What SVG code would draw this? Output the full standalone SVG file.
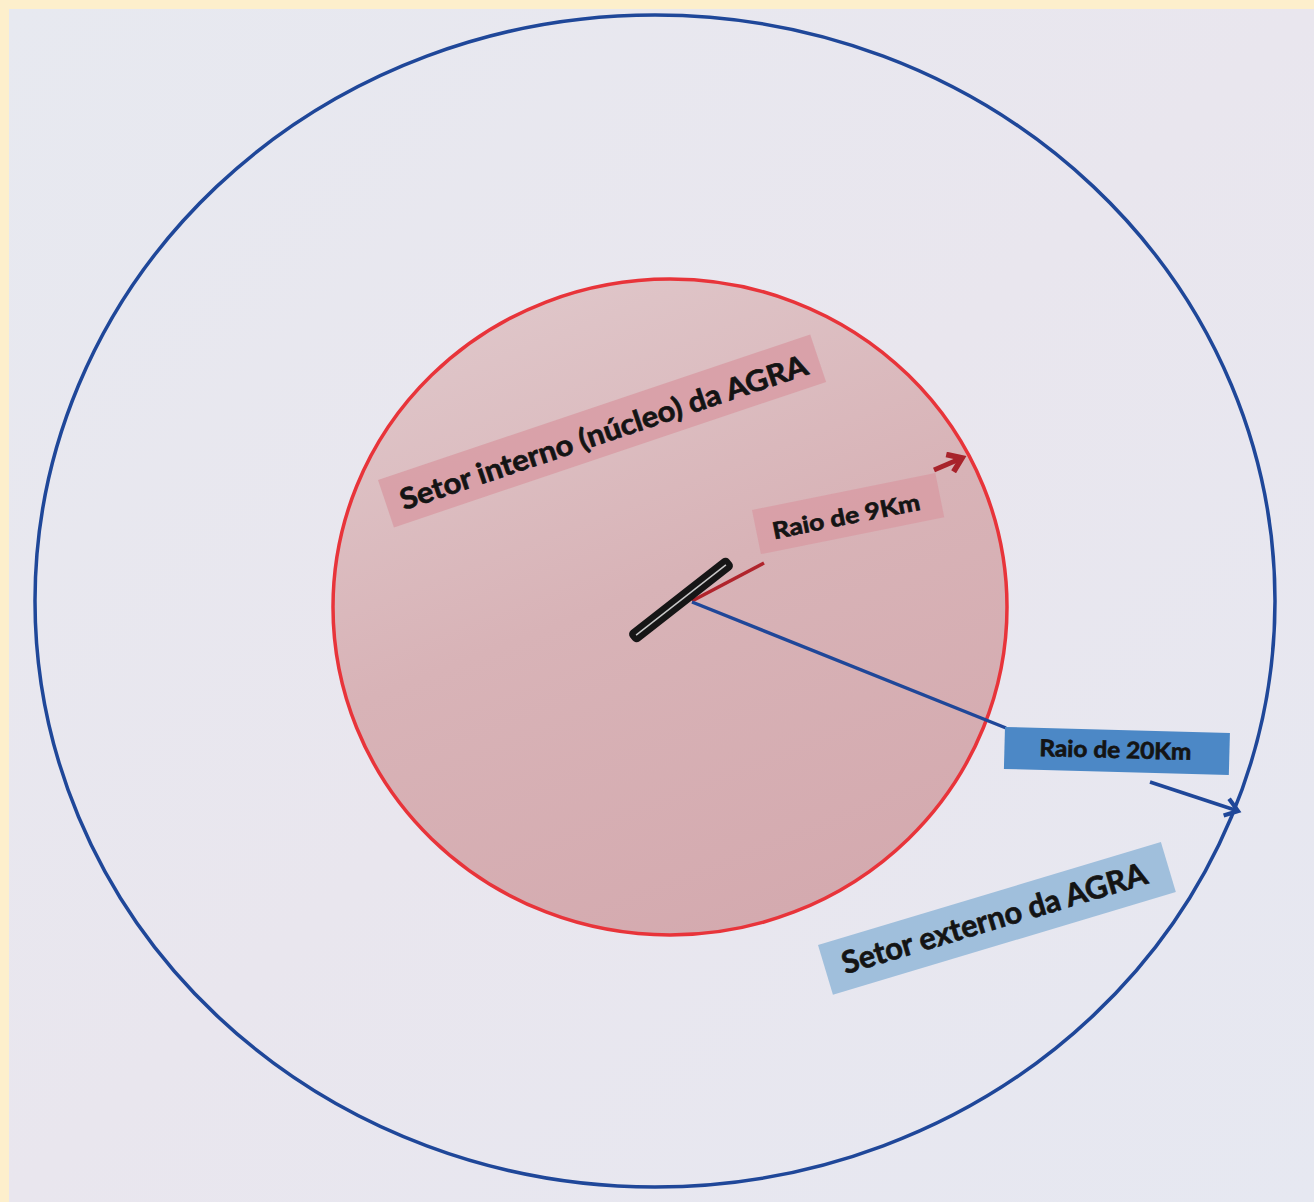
<svg xmlns="http://www.w3.org/2000/svg" width="1314" height="1202" viewBox="0 0 1314 1202">
  <style>
    .lbl { font-family: "Lato", "Open Sans", "Liberation Sans", sans-serif; font-weight: bold; fill: #141414; stroke: #141414; stroke-width: 0.7; }
    .pinkbox { fill: #d89ca5; opacity: 0.85; }
    .bluebox { fill: #4c88c6; }
    .lightbluebox { fill: #a0bfdc; }
  </style>
  <defs>
    <linearGradient id="bg" x1="0" y1="0" x2="1" y2="1">
      <stop offset="0" stop-color="#e7e9f0"/>
      <stop offset="0.5" stop-color="#e9e6ee"/>
      <stop offset="1" stop-color="#e6e8f1"/>
    </linearGradient>
    <linearGradient id="inner" x1="0.2" y1="0" x2="0.6" y2="1">
      <stop offset="0" stop-color="#e0c8cb"/>
      <stop offset="0.5" stop-color="#d8b3b7"/>
      <stop offset="1" stop-color="#d4aaaf"/>
    </linearGradient>
    <marker id="arrRed" viewBox="0 0 12 12" refX="9" refY="6" markerWidth="4.5" markerHeight="4.5" orient="auto" markerUnits="strokeWidth">
      <path d="M2,1 L9,6 L2,11" fill="none" stroke="#a8232b" stroke-width="3"/>
    </marker>
    <marker id="arrBlue" viewBox="0 0 12 12" refX="9" refY="6" markerWidth="6" markerHeight="6" orient="auto" markerUnits="strokeWidth">
      <path d="M2,1 L9,6 L2,11" fill="none" stroke="#1f4799" stroke-width="2.4"/>
    </marker>
  </defs>

  <rect x="0" y="0" width="1314" height="1202" fill="#fdefcc"/>
  <rect x="9" y="9" width="1305" height="1193" fill="url(#bg)"/>

  <g id="outer-sector">
    <ellipse cx="655" cy="601" rx="620" ry="586" fill="none" stroke="#1f4799" stroke-width="3.5"/>
  </g>

  <g id="inner-sector">
    <ellipse cx="670" cy="607" rx="337" ry="328" fill="url(#inner)" stroke="#e8343a" stroke-width="3.5"/>
  </g>

  <g id="connectors">
    <line x1="692" y1="601" x2="764" y2="563" stroke="#b0242c" stroke-width="3.5"/>
    <line x1="692" y1="602" x2="1006" y2="728" stroke="#1f4799" stroke-width="3.5"/>
    <line x1="1150" y1="782" x2="1238" y2="811" stroke="#1f4799" stroke-width="3.5" marker-end="url(#arrBlue)"/>
    <line x1="934" y1="470" x2="962" y2="458" stroke="#a8232b" stroke-width="5" marker-end="url(#arrRed)"/>
  </g>

  <g id="runway" transform="translate(681,600) rotate(-38)">
    <rect x="-63" y="-7" width="126" height="14" rx="5" fill="#161616"/>
    <line x1="-57" y1="0" x2="57" y2="0" stroke="#c8c8c8" stroke-width="1.5"/>
  </g>

  <g id="label-inner" transform="translate(378,480) rotate(-18.6)">
    <rect class="pinkbox" x="0" y="0" width="456" height="50"/>
    <text class="lbl" x="15" y="37" font-size="29" textLength="428" lengthAdjust="spacingAndGlyphs">Setor interno (núcleo) da AGRA</text>
  </g>

  <g id="label-9km" transform="translate(752,510) rotate(-11.4)">
    <rect class="pinkbox" x="0" y="0" width="187" height="45"/>
    <text class="lbl" x="16" y="33" font-size="23" textLength="150" lengthAdjust="spacingAndGlyphs">Raio de 9Km</text>
  </g>

  <g id="label-20km" transform="translate(1005,727) rotate(1.5)">
    <rect class="bluebox" x="0" y="0" width="225" height="42"/>
    <text class="lbl" x="35" y="28" font-size="23" textLength="152" lengthAdjust="spacingAndGlyphs">Raio de 20Km</text>
  </g>

  <g id="label-outer" transform="translate(818,945) rotate(-16.7)">
    <rect class="lightbluebox" x="0" y="0" width="358" height="52"/>
    <text class="lbl" x="18" y="36" font-size="31" textLength="317" lengthAdjust="spacingAndGlyphs">Setor externo da AGRA</text>
  </g>
</svg>
